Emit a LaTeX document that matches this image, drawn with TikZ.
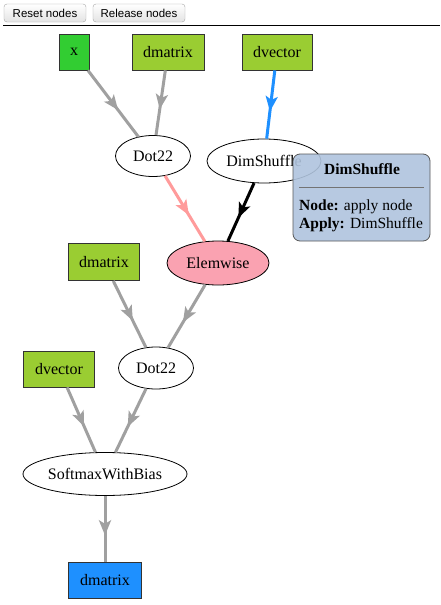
\documentclass[tikz,border=0pt]{standalone}
\usepackage{fontspec}
\setmainfont{Liberation Serif}
\newfontfamily\btnfont{Liberation Sans}
\usetikzlibrary{shapes.geometric,arrows.meta,decorations.markings}
\definecolor{limeg}{HTML}{32CD32}
\definecolor{yelg}{HTML}{9ACD32}
\definecolor{dodger}{HTML}{1E90FF}
\definecolor{pinkfill}{RGB}{250,162,177}
\definecolor{edgegray}{HTML}{A0A0A0}
\definecolor{pinkedge}{RGB}{255,155,155}
\definecolor{steel}{HTML}{B0C4DE}
\tikzset{
  box/.style={draw=black!80, line width=0.8pt, rectangle, inner sep=0pt, font=\fontsize{16}{18}\selectfont},
  oval/.style={draw=black, line width=0.8pt, ellipse, inner sep=0pt, fill=white, font=\fontsize{16}{18}\selectfont},
  midarrow/.style={postaction={decorate}, decoration={markings, mark=at position 0.6 with {\arrow{Stealth[length=15pt,width=12pt,inset=3.5pt]}}}},
  edgeline/.style={line width=3pt, midarrow},
  btn/.style={draw=gray!70, rounded corners=3pt, top color=white, bottom color=gray!22, inner sep=0pt, font=\btnfont\fontsize{11.5}{13}\selectfont},
}
\begin{document}
\begin{tikzpicture}[x=1pt,y=-1pt]
\useasboundingbox (0,0) rectangle (440,605);
\fill[white] (0,0) rectangle (440,605);
% buttons
\node[btn, minimum width=82pt, minimum height=18pt] (reset) at (45,13) {Reset nodes};
\node[btn, minimum width=92pt, minimum height=18pt] (release) at (139,13) {Release nodes};
\coordinate (ruleL) at (3,25);
\coordinate (ruleR) at (440,25);
\draw[black, line width=1pt] (ruleL) -- (ruleR);
% nodes
\node[box, fill=limeg, minimum width=30pt, minimum height=36pt] (x) at (74,52) {x};
\node[box, fill=yelg, minimum width=72pt, minimum height=36pt] (dm1) at (168,52) {dmatrix};
\node[box, fill=yelg, minimum width=70pt, minimum height=36pt] (dv1) at (277,52) {dvector};
\node[oval, minimum width=75pt, minimum height=41pt] (dot1) at (153,156) {Dot22};
\node[oval, minimum width=114pt, minimum height=44pt] (dim) at (264,161) {DimShuffle};
\node[oval, fill=pinkfill, minimum width=102pt, minimum height=44pt] (elem) at (218,263) {Elemwise};
\node[box, fill=yelg, minimum width=71pt, minimum height=37pt] (dm2) at (104,262) {dmatrix};
\node[oval, minimum width=75pt, minimum height=42pt] (dot2) at (156,368) {Dot22};
\node[box, fill=yelg, minimum width=71pt, minimum height=36pt] (dv2) at (59,369) {dvector};
\node[oval, minimum width=164pt, minimum height=43pt] (soft) at (105,474) {SoftmaxWithBias};
\node[box, fill=dodger, minimum width=73pt, minimum height=36pt] (dm3) at (105,580) {dmatrix};
% edges
\draw[edgeline, edgegray] (x) -- (dot1);
\draw[edgeline, edgegray] (dm1) -- (dot1);
\draw[edgeline, dodger] (dv1) -- (dim);
\draw[edgeline, pinkedge] (dot1) -- (elem);
\draw[edgeline, black] (dim) -- (elem);
\draw[edgeline, edgegray] (dm2) -- (dot2);
\draw[edgeline, edgegray] (elem) -- (dot2);
\draw[edgeline, edgegray] (dv2) -- (soft);
\draw[edgeline, edgegray] (dot2) -- (soft);
\draw[edgeline, edgegray] (soft) -- (dm3);
% tooltip
\node[draw=black!65, line width=0.8pt, rounded corners=7pt, fill=steel, fill opacity=0.9, minimum width=137pt, minimum height=87pt, inner sep=0pt] (tip) at (361.5,197.5) {};
\node[font=\bfseries\fontsize{15.5}{18}\selectfont] (tiptitle) at (362,169) {DimShuffle};
\coordinate (sepL) at (299,187);
\coordinate (sepR) at (424,187);
\draw[black!55, line width=0.8pt] (sepL) -- (sepR);
\node[anchor=west, inner sep=0pt, font=\fontsize{15.5}{18}\selectfont] (tipnode) at (299,207) {\textbf{Node:} apply node};
\node[anchor=west, inner sep=0pt, font=\fontsize{15.5}{18}\selectfont] (tipapply) at (299,225) {\textbf{Apply:} DimShuffle};
\end{tikzpicture}
\end{document}
